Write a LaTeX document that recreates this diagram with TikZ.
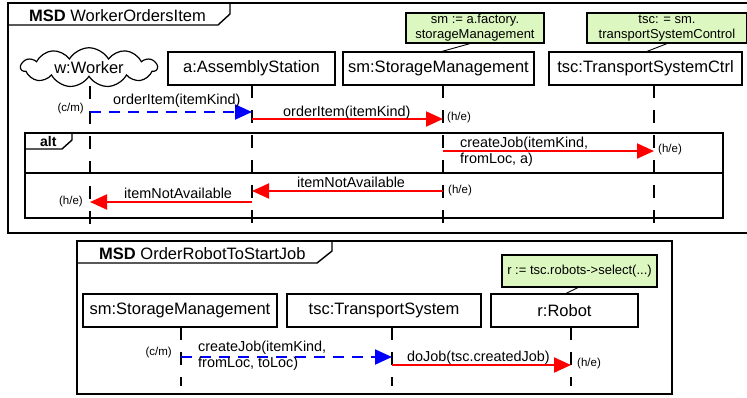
\documentclass[tikz,border=0pt]{standalone}
\usepackage{fontspec}
\setmainfont{Liberation Sans}
\usetikzlibrary{arrows.meta,shapes.symbols}

\definecolor{notegreen}{RGB}{221,247,192}

\tikzset{
  outerframe/.style={line width=2.4pt},
  headline/.style={line width=1.4pt},
  lifehead/.style={draw, line width=1.2pt, fill=white, minimum height=33pt,
    inner sep=0pt, font=\fontsize{16.5}{19}\selectfont},
  notebox/.style={draw, line width=1.2pt, fill=notegreen, align=center,
    inner sep=0pt, font=\fontsize{13}{15}\selectfont},
  notelink/.style={line width=0.9pt},
  lifeline/.style={line width=1.7pt, dash pattern=on 13pt off 12pt},
  coldmsg/.style={blue, line width=2pt, dash pattern=on 11pt off 8pt,
    -{Triangle[length=17pt,width=15pt]}},
  hotmsg/.style={red, line width=2pt, -{Triangle[length=17pt,width=15pt]}},
  msglabel/.style={anchor=base west, inner sep=0pt, align=left,
    font=\fontsize{14.4}{16}\selectfont},
  modelabel/.style={inner sep=0pt, font=\fontsize{11.5}{13}\selectfont},
  titletext/.style={anchor=base west, inner sep=0pt, font=\fontsize{16.5}{19}\selectfont},
  fragment/.style={line width=1.5pt},
}

\begin{document}
\begin{tikzpicture}[x=1pt,y=-1pt]
\useasboundingbox (0,0) rectangle (747,397);
\clip (0,0) rectangle (747,397);
\fill[white] (0,0) rectangle (747,397);

% ---------------- MSD WorkerOrdersItem ----------------
\draw[outerframe] (8,3) rectangle (760,233);
\draw[headline] (8,25) -- (218,25) -- (230,14) -- (230,3);
\node[titletext] (t1) at (29,21.5) {\textbf{MSD} WorkerOrdersItem};

% lifeline heads
\node[cloud, draw, line width=1.2pt, fill=white, cloud puffs=11, cloud puff arc=120,
      aspect=4, minimum width=136pt, minimum height=34pt, inner sep=0pt,
      font=\fontsize{16.5}{19}\selectfont] (w) at (89,67.5) {w:Worker};
\node[lifehead, minimum width=167pt] (a) at (251.5,68.5) {a:AssemblyStation};
\node[lifehead, minimum width=191pt] (sm) at (438.5,68.5) {sm:StorageManagement};
\node[lifehead, minimum width=193pt] (tsc) at (645.5,68.5) {tsc:TransportSystemCtrl};

% binding notes
\node[notebox, minimum width=138pt, minimum height=30pt] (nsm) at (475,28)
  {sm := a.factory.\\storageManagement};
\node[notebox, minimum width=160pt, minimum height=30pt] (ntsc) at (667,28)
  {tsc: = sm.\\transportSystemControl};
\draw[notelink] (nsm.south -| 470,0) -- (sm.north -| 442,0);
\draw[notelink] (ntsc.south -| 667,0) -- (tsc.north -| 647,0);

% lifelines
\coordinate (wTop) at (90,86);   \coordinate (wBot) at (90,224);
\coordinate (aTop) at (252,85);  \coordinate (aBot) at (252,224);
\coordinate (smTop) at (443,85); \coordinate (smBot) at (443,224);
\coordinate (tscTop) at (654,85);\coordinate (tscBot) at (654,224);
\foreach \l in {w,a,sm,tsc} \draw[lifeline] (\l Top) -- (\l Bot);

% alt fragment
\draw[fragment] (25,133) rectangle (723,218);
\draw[fragment] (25,173) -- (723,173);
\draw[headline] (25,149) -- (62,149) -- (72,140) -- (72,133);
\node[anchor=base west, inner sep=0pt, font=\fontsize{14}{16}\selectfont\bfseries] (alt) at (40,146) {alt};

% messages
\coordinate (m1) at (0,112);
\draw[coldmsg] (wTop |- m1) -- (aTop |- m1);
\node[msglabel] (l1) at (113,104) {orderItem(itemKind)};
\node[modelabel, anchor=east] (c1) at (84,109) {(c/m)};

\coordinate (m2) at (0,119);
\draw[hotmsg] (aTop |- m2) -- (smTop |- m2);
\node[msglabel] (l2) at (283,116) {orderItem(itemKind)};
\node[modelabel, anchor=west] (h2) at (447,118) {(h/e)};

\coordinate (m3) at (0,151);
\draw[hotmsg] (smTop |- m3) -- (tscTop |- m3);
\node[msglabel] (l3) at (460,163) {createJob(itemKind,\\fromLoc, a)};
\node[modelabel, anchor=west] (h3) at (658,149.5) {(h/e)};

\coordinate (m4) at (0,191);
\draw[hotmsg] (smTop |- m4) -- (aTop |- m4);
\node[msglabel] (l4) at (297,187) {itemNotAvailable};
\node[modelabel, anchor=west] (h4) at (448,191) {(h/e)};

\coordinate (m5) at (0,202);
\draw[hotmsg] (aTop |- m5) -- (wTop |- m5);
\node[msglabel] (l5) at (124,198) {itemNotAvailable};
\node[modelabel, anchor=east] (h5) at (83,202) {(h/e)};

% ---------------- MSD OrderRobotToStartJob ----------------
\draw[outerframe] (77,241) rectangle (672,394);
\draw[headline] (77,263) -- (317,263) -- (332,251) -- (332,241);
\node[titletext] (t2) at (99,259) {\textbf{MSD} OrderRobotToStartJob};

\node[lifehead, minimum width=194pt] (sm2) at (180,310.5) {sm:StorageManagement};
\node[lifehead, minimum width=194pt] (tsc2) at (384,310.5) {tsc:TransportSystem};
\node[lifehead, minimum width=147pt] (r) at (564.5,310.5) {r:Robot};

\node[notebox, minimum width=155pt, minimum height=32pt] (nr) at (579.5,271)
  {r := tsc.robots->select(...)};
\draw[notelink] (nr.south -| 578,0) -- (r.north -| 566,0);

\coordinate (smTwoTop) at (181,327);  \coordinate (smTwoBot) at (181,386);
\coordinate (tscTwoTop) at (392,327); \coordinate (tscTwoBot) at (392,386);
\coordinate (rTop) at (571,327);      \coordinate (rBot) at (571,386);
\foreach \l in {smTwo,tscTwo,r} \draw[lifeline] (\l Top) -- (\l Bot);

\coordinate (m6) at (0,357);
\draw[coldmsg] (smTwoTop |- m6) -- (tscTwoTop |- m6);
\node[msglabel] (l6) at (198,367) {createJob(itemKind,\\fromLoc, toLoc)};
\node[modelabel, anchor=east] (c6) at (172,353) {(c/m)};

\coordinate (m7) at (0,365);
\draw[hotmsg] (tscTwoTop |- m7) -- (rTop |- m7);
\node[msglabel] (l7) at (407,361.5) {doJob(tsc.createdJob)};
\node[modelabel, anchor=west] (h7) at (577,364) {(h/e)};
\end{tikzpicture}
\end{document}
